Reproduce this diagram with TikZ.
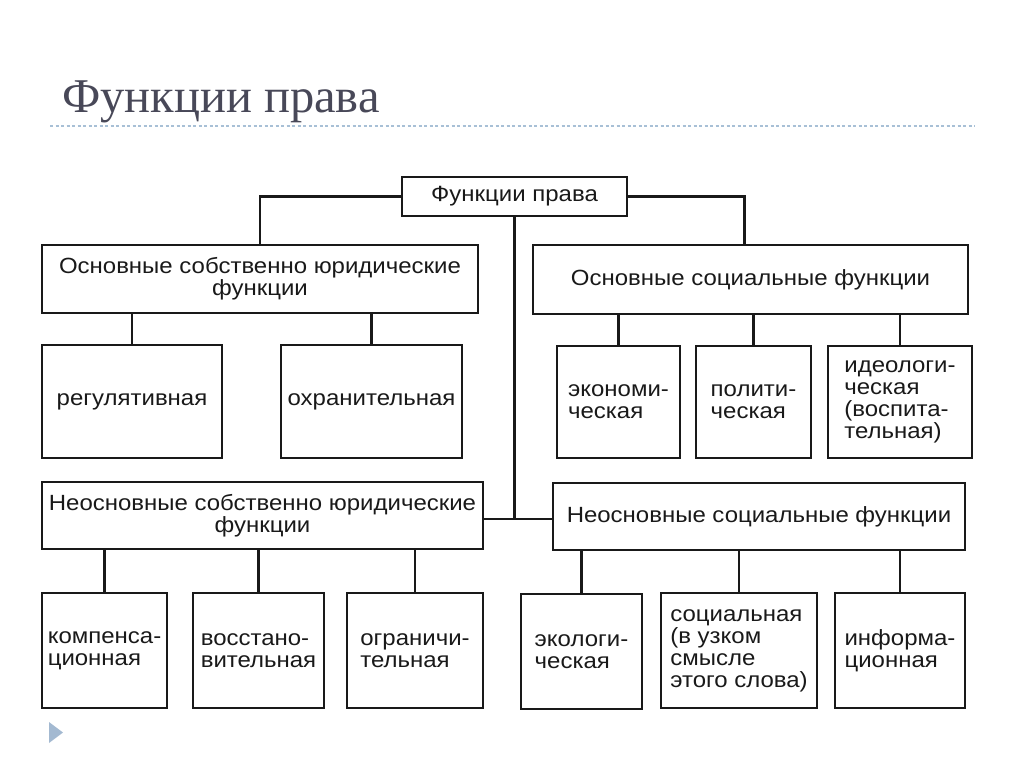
\documentclass[tikz,border=0pt]{standalone}
\usepackage{fontspec}
\setmainfont{Liberation Serif}
\newfontfamily\diagfont[FakeStretch=1.09]{Liberation Sans}
\definecolor{titlecol}{RGB}{72,72,88}
\definecolor{rulecol}{RGB}{168,192,214}
\definecolor{tricol}{RGB}{163,185,209}
\definecolor{inkcol}{RGB}{25,25,25}
\tikzset{
  box/.style={draw=inkcol, line width=2.6pt, inner sep=0pt, text=inkcol,
    font=\diagfont\fontsize{22}{22}\selectfont, align=center},
  leaf/.style={box, align=left},
  link/.style={draw=inkcol, line width=2.6pt},
}
\begin{document}
\begin{tikzpicture}[x=1pt,y=-1pt]
\useasboundingbox (0,0) rectangle (1024,767);
% title
\node[anchor=base west, inner sep=0pt, text=titlecol, font=\fontsize{48.5}{48.5}\selectfont] (title) at (62,113) {Функции права};
\draw[rulecol, line width=1.3pt, dash pattern=on 3pt off 2.5pt] (50,126) -- (975,126);
\fill[tricol] (49,722) -- (63,732.5) -- (49,743) -- cycle;

% top
\node[box, minimum width=225, minimum height=39] (top) at (514.5,196.5) {Функции права};
% level 1
\node[box, minimum width=436, minimum height=68] (lb1) at (260,279) {Основные собственно юридические\\функции};
\node[box, minimum width=435, minimum height=69] (rb1) at (750.5,279.5) {Основные социальные функции};
% level 1 children
\node[leaf, minimum width=180, minimum height=113] (reg) at (132,401.5) {регулятивная};
\node[leaf, minimum width=181, minimum height=113] (ohr) at (371.5,401.5) {охранительная};
\node[leaf, minimum width=123, minimum height=112] (eco) at (618.5,402) {экономи-\\ческая};
\node[leaf, minimum width=115, minimum height=112] (pol) at (753.5,402) {полити-\\ческая};
\node[leaf, minimum width=144, minimum height=112] (ide) at (900,402) {идеологи-\\ческая\\(воспита-\\тельная)};
% level 2
\node[box, minimum width=441, minimum height=67] (lb2) at (262.5,515.5) {Неосновные собственно юридические\\функции};
\node[box, minimum width=412, minimum height=67] (rb2) at (759,516.5) {Неосновные социальные функции};
% level 2 children
\node[leaf, minimum width=125, minimum height=115] (kom) at (104.5,650.5) {компенса-\\ционная};
\node[leaf, minimum width=131, minimum height=115] (vos) at (258.5,650.5) {восстано-\\вительная};
\node[leaf, minimum width=136, minimum height=115] (ogr) at (415,650.5) {ограничи-\\тельная};
\node[leaf, minimum width=121, minimum height=115] (ecl) at (581.5,651.5) {экологи-\\ческая};
\node[leaf, minimum width=156, minimum height=115] (soc) at (739,650.5) {социальная\\(в узком\\смысле\\этого слова)};
\node[leaf, minimum width=130, minimum height=115] (inf) at (900,650.5) {информа-\\ционная};

% connectors
\coordinate (rtop) at ([xshift=-6pt]rb1.north);
\coordinate (j) at (514.5,519);
\draw[link] (top.west) -| (lb1.north);
\draw[link] (top.east) -| (rtop);
\draw[link] (top.south) -- (j);
\draw[link] (lb2.east |- j) -- (rb2.west |- j);
\foreach \c in {reg,ohr} \draw[link] (lb1.south -| \c.north) -- (\c.north);
\foreach \c in {eco,pol,ide} \draw[link] (rb1.south -| \c.north) -- (\c.north);
\foreach \c in {kom,vos,ogr} \draw[link] (lb2.south -| \c.north) -- (\c.north);
\foreach \c in {ecl,soc,inf} \draw[link] (rb2.south -| \c.north) -- (\c.north);
\end{tikzpicture}
\end{document}
